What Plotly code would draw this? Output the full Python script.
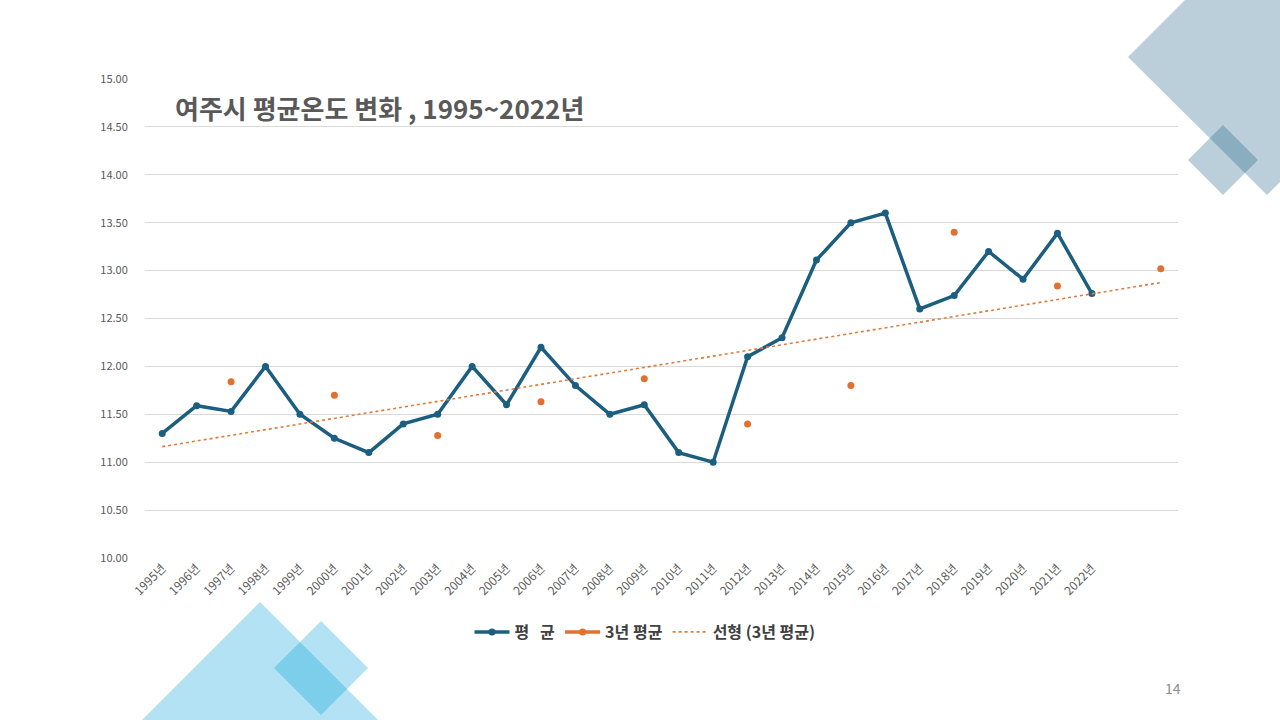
import numpy as np
import plotly.graph_objects as go

# ---------------- data ----------------
year_labels = ["1995년", "1996년", "1997년", "1998년", "1999년", "2000년", "2001년",
               "2002년", "2003년", "2004년", "2005년", "2006년", "2007년", "2008년",
               "2009년", "2010년", "2011년", "2012년", "2013년", "2014년", "2015년",
               "2016년", "2017년", "2018년", "2019년", "2020년", "2021년", "2022년"]
n_slots = 30  # two extra (unlabelled) category slots after 2022

avg_temp = [11.30, 11.59, 11.53, 12.00, 11.50, 11.25, 11.10, 11.40, 11.50, 12.00,
            11.60, 12.20, 11.80, 11.50, 11.60, 11.10, 11.00, 12.10, 12.30, 13.11,
            13.50, 13.60, 12.60, 12.74, 13.20, 12.91, 13.39, 12.76]

three_year_avg = [None, None, 11.84, None, None, 11.70, None, None, 11.28, None,
                  None, 11.63, None, None, 11.87, None, None, 11.40, None, None,
                  11.80, None, None, 13.40, None, None, 12.84, None, None, 13.02]

y_ticks = [10.0, 10.5, 11.0, 11.5, 12.0, 12.5, 13.0, 13.5, 14.0, 14.5, 15.0]

title_text = "여주시 평균온도 변화 , 1995~2022년"
series_names = ["평\u00a0\u00a0\u00a0균", "3년 평균", "선형 (3년 평균)"]
page_number = "14"

# ---------------- layout helpers ----------------
W, H = 1280, 720
PL, PR, PT, PB = 145, 1178, 79, 558  # plot area in pixels


def px(x):
    return (x - PL) / (PR - PL)


def py(y):
    return (PB - y) / (PB - PT)


def poly(points):
    pts = [(px(a), py(b)) for a, b in points]
    return "M " + " L ".join(f"{a:.5f},{b:.5f}" for a, b in pts) + " Z"


x_avg = list(range(len(avg_temp)))
x_all = list(range(n_slots))

# linear trendline fitted to the 3-year averages (as in the spreadsheet chart)
xs = np.array([i for i, v in enumerate(three_year_avg) if v is not None], float)
ys = np.array([v for v in three_year_avg if v is not None], float)
slope, intercept = np.polyfit(xs, ys, 1)
trend = [intercept + slope * i for i in x_all]

FONT = "Noto Sans CJK KR"
BLUE = "#1b5e80"
ORANGE = "#e2712f"

fig = go.Figure()
fig.add_trace(go.Scatter(
    x=x_avg, y=avg_temp, name=series_names[0], mode="lines+markers",
    line=dict(color=BLUE, width=3.5), marker=dict(color=BLUE, size=7)))
fig.add_trace(go.Scatter(
    x=x_all, y=three_year_avg, name=series_names[1], mode="lines+markers",
    connectgaps=False,
    line=dict(color=ORANGE, width=3.5), marker=dict(color=ORANGE, size=7)))
fig.add_trace(go.Scatter(
    x=x_all, y=trend, name=series_names[2], mode="lines",
    line=dict(color="#e07b3c", width=1.6, dash="dot")))

shapes = [
    # top-right decorations
    dict(type="path", xref="paper", yref="paper", layer="below",
         path=poly([(1128, 57), (1278, -93), (1417, 45), (1267, 195)]),
         fillcolor="rgba(31,100,135,0.31)", line=dict(width=0)),
    dict(type="path", xref="paper", yref="paper", layer="below",
         path=poly([(1223, 125), (1258, 160), (1223, 195), (1188, 160)]),
         fillcolor="rgba(31,100,135,0.31)", line=dict(width=0)),
    # bottom-left decorations
    dict(type="path", xref="paper", yref="paper", layer="below",
         path=poly([(260, 602), (480, 822), (260, 1042), (40, 822)]),
         fillcolor="rgba(0,160,215,0.30)", line=dict(width=0)),
    dict(type="path", xref="paper", yref="paper", layer="below",
         path=poly([(321, 621), (368, 668), (321, 715), (274, 668)]),
         fillcolor="rgba(0,160,215,0.30)", line=dict(width=0)),
]

annotations = [
    dict(text=f"<b>{title_text}</b>", xref="paper", yref="paper",
         x=px(173), y=py(108), xanchor="left", yanchor="middle", showarrow=False,
         font=dict(family=FONT, size=26, color="#595959")),
    dict(text=page_number, xref="paper", yref="paper",
         x=px(1183), y=py(688), xanchor="right", yanchor="middle", showarrow=False,
         font=dict(family=FONT, size=14, color="#8c8c8c")),
]

fig.update_layout(
    width=W, height=H,
    margin=dict(l=PL, r=W - PR, t=PT, b=H - PB, pad=0),
    paper_bgcolor="white", plot_bgcolor="rgba(0,0,0,0)",
    font=dict(family=FONT, color="#595959"),
    showlegend=True,
    legend=dict(orientation="h", x=px(645), y=py(632), xanchor="center",
                yanchor="middle",
                font=dict(family=FONT, size=16, color="#404040", weight=700),
                bgcolor="rgba(0,0,0,0)", itemwidth=35, traceorder="normal"),
    shapes=shapes, annotations=annotations,
)
fig.update_xaxes(
    range=[-0.5, n_slots - 0.5], tickmode="array",
    tickvals=list(range(len(year_labels))), ticktext=year_labels,
    tickangle=-45, tickfont=dict(family=FONT, size=12, color="#595959"),
    showgrid=False, zeroline=False, showline=False, ticks="", fixedrange=True)
fig.update_yaxes(
    range=[10, 15], tickmode="array", tickvals=y_ticks,
    ticktext=[f"{v:.2f}" for v in y_ticks],
    tickfont=dict(family=FONT, size=11, color="#595959"),
    showgrid=True, gridcolor="#d9d9d9", gridwidth=1, zeroline=False,
    showline=False, ticks="outside", ticklen=14, tickcolor="rgba(0,0,0,0)")

fig.write_html("out.html", config={"displayModeBar": False},
               post_script="document.body.style.margin='0';")
